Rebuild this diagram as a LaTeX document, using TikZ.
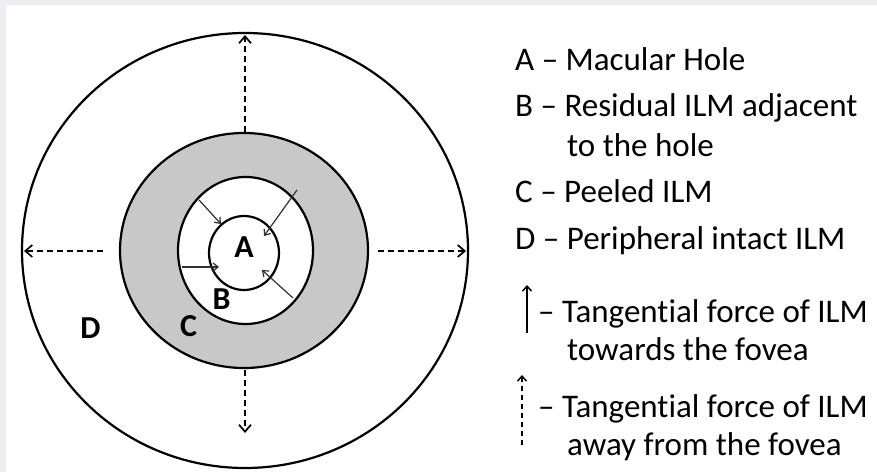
\documentclass[tikz,border=0pt]{standalone}
\usepackage{fontspec}
\setmainfont{Carlito}[Ligatures={NoCommon,NoContextual,NoRequired}]
\usetikzlibrary{shapes.geometric,arrows.meta}
\definecolor{framegray}{HTML}{ECEEF1}
\definecolor{ringgray}{HTML}{C8C8C8}
\definecolor{arrowgray}{HTML}{303030}
\tikzset{
  disc/.style={ellipse, draw=black, line width=2.2bp, inner sep=0pt},
  inarrow/.style={draw=arrowgray, line width=1.2bp, -{Straight Barb[length=5bp,width=8bp]}},
  outarrow/.style={draw=black, line width=1.7bp, dash pattern=on 6bp off 4bp, -{Straight Barb[length=7bp,width=12bp]}},
  legsolid/.style={draw=black, line width=1.5bp, -{Straight Barb[length=5bp,width=9bp]}},
  legdash/.style={draw=black, line width=1.5bp, dash pattern=on 5bp off 4bp, -{Straight Barb[length=5bp,width=9bp]}},
  legtext/.style={anchor=base west, inner sep=0pt, font=\fontsize{33bp}{38bp}\selectfont},
  zonelabel/.style={anchor=base, inner sep=0pt, font=\fontsize{32bp}{38bp}\selectfont\bfseries}
}
\begin{document}
\begin{tikzpicture}[x=1bp,y=-1bp]
\useasboundingbox (0,0) rectangle (877,472);
\fill[framegray] (0,0) rectangle (877,472);
\fill[white] (6,5) rectangle (877,472);
% circles
\node[disc, fill=white, minimum width=446bp, minimum height=435bp] (outer) at (245,250.5) {};
\node[disc, fill=ringgray, minimum width=248bp, minimum height=235bp] (ring) at (244,250.5) {};
\node[disc, fill=white, minimum width=135bp, minimum height=147bp] (inner) at (245.5,250.5) {};
\node[disc, fill=white, minimum width=70bp, minimum height=74bp] (hole) at (244,253) {};
% inner arrows (towards fovea)
\coordinate (ula) at (199,200); \coordinate (ulb) at (221,224);
\coordinate (ura) at (297,190); \coordinate (urb) at (264,236);
\coordinate (lfa) at (182,267); \coordinate (lfb) at (219,267);
\coordinate (lra) at (293,298); \coordinate (lrb) at (262,270);
\draw[inarrow] (ula) -- (ulb);
\draw[inarrow] (ura) -- (urb);
\draw[inarrow] (lfa) -- (lfb);
\draw[inarrow] (lra) -- (lrb);
% outer dashed arrows (away from fovea)
\coordinate (tpa) at (245,132); \coordinate (tpb) at (245,35);
\coordinate (lta) at (103,251); \coordinate (ltb) at (24,251);
\coordinate (rta) at (378,251); \coordinate (rtb) at (466,251);
\coordinate (bta) at (245,370); \coordinate (btb) at (245,433);
\draw[outarrow] (tpa) -- (tpb);
\draw[outarrow] (lta) -- (ltb);
\draw[outarrow] (rta) -- (rtb);
\draw[outarrow] (bta) -- (btb);
% zone labels
\node[zonelabel] (la) at (244,258) {A};
\node[zonelabel] (lb) at (221.5,310) {B};
\node[zonelabel] (lc) at (188.5,337) {C};
\node[zonelabel] (ld) at (90.5,339) {D};
% legend
\node[legtext] (t1) at (515,71) {A – Macular Hole};
\node[legtext] (t2) at (515,117) {B – Residual ILM adjacent};
\node[legtext] (t3) at (567,157) {to the hole};
\node[legtext] (t4) at (515,203) {C – Peeled ILM};
\node[legtext] (t5) at (515,250) {D – Peripheral intact ILM};
\node[legtext] (t6) at (538,323) {– Tangential force of ILM};
\node[legtext] (t7) at (567,361) {towards the fovea};
\node[legtext] (t8) at (538,417) {– Tangential force of ILM};
\node[legtext] (t9) at (567,455) {away from the fovea};
\coordinate (ssa) at (527,333); \coordinate (ssb) at (527,285);
\coordinate (sda) at (522,445); \coordinate (sdb) at (522,375);
\draw[legsolid] (ssa) -- (ssb);
\draw[legdash] (sda) -- (sdb);
\end{tikzpicture}
\end{document}
